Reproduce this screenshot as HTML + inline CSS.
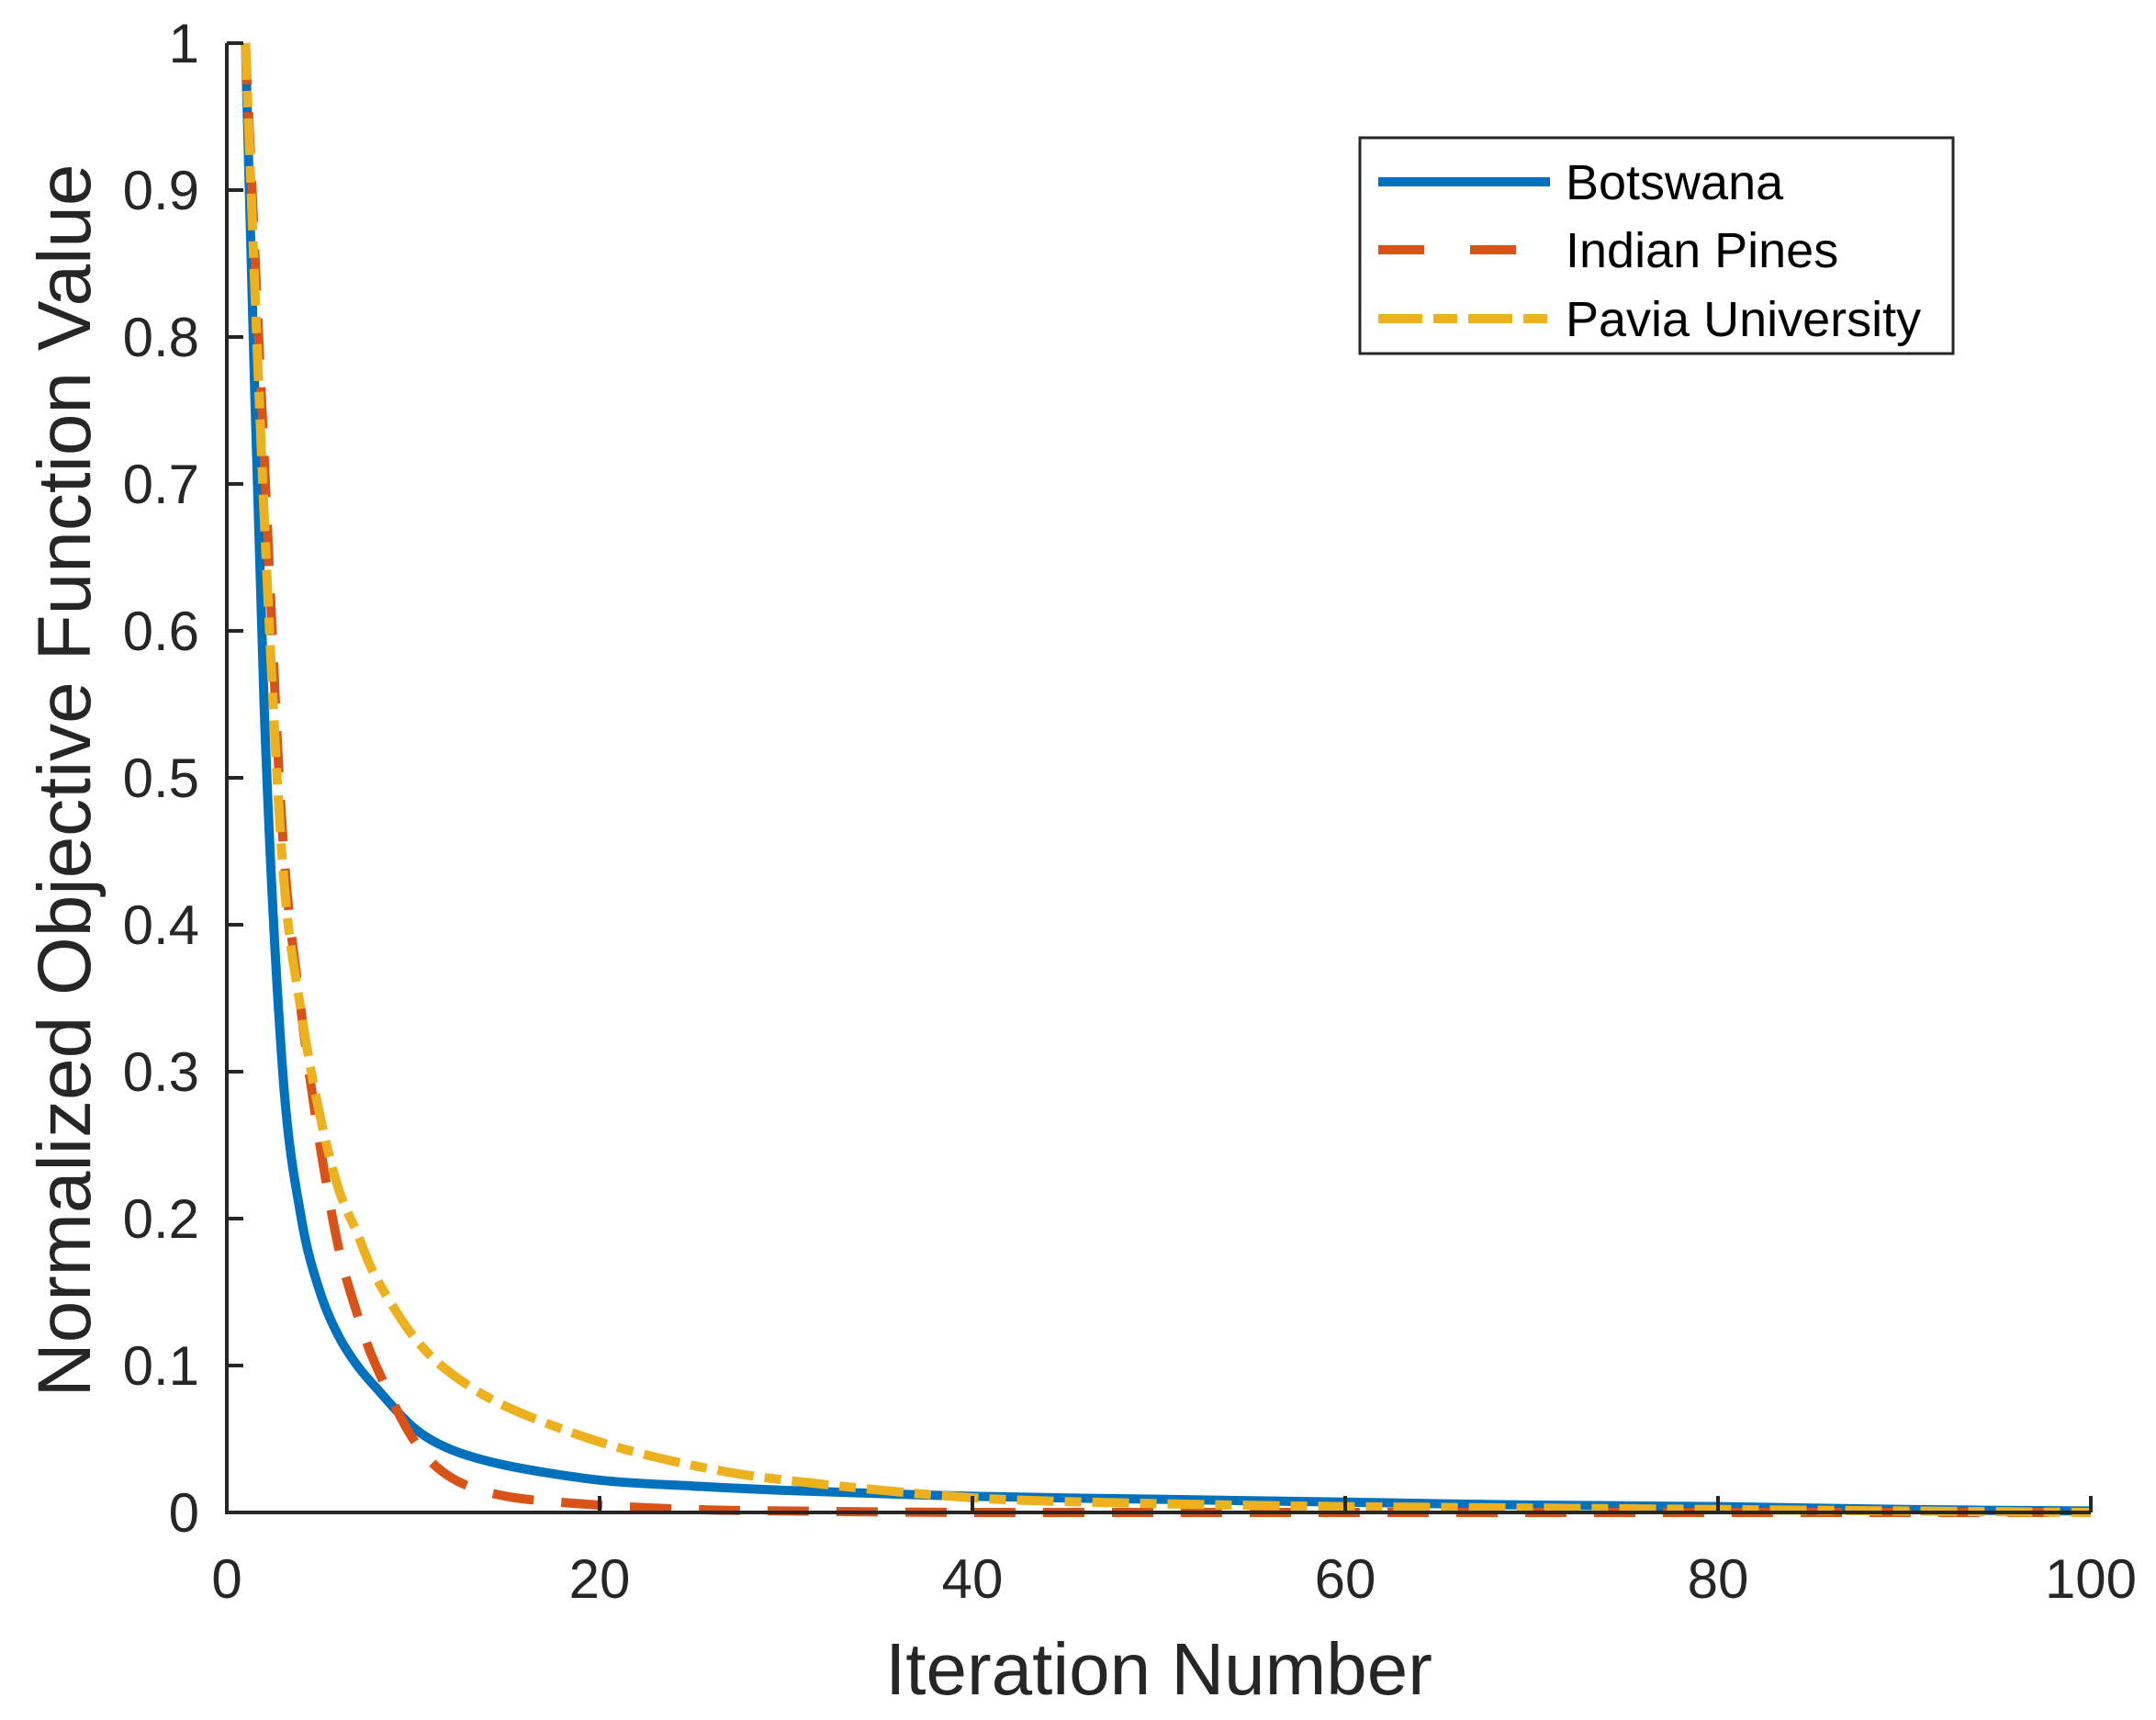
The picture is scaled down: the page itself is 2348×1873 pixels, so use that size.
<!DOCTYPE html>
<html><head><meta charset="utf-8"><style>
html,body{margin:0;padding:0;background:#fff;}
svg{display:block;font-family:"Liberation Sans",Arial,sans-serif;}
</style></head><body>
<svg id="chart" width="2348" height="1873" viewBox="0 0 2348 1873" xmlns="http://www.w3.org/2000/svg">
<rect width="2348" height="1873" fill="#fff"/>
<g id="series"></g>
<g id="axes"></g>
<g id="legend"></g>
</svg>
<script>
const iterations = [1,2,3,4,5,6,7,8,10,12,15,20,25,30,40,50,60,70,80,90,100];
const botswana = [1.0,0.55,0.30,0.20,0.15,0.12,0.10,0.085,0.058,0.043,0.032,0.022,0.018,0.015,0.011,0.009,0.007,0.005,0.004,0.002,0.001];
const indianPines = [1.0,0.72,0.46,0.34,0.25,0.18,0.135,0.10,0.05,0.024,0.011,0.005,0.002,0.001,0,0,0,0,0,0,0];
const paviaUniversity = [1.0,0.68,0.44,0.34,0.27,0.22,0.19,0.16,0.12,0.095,0.072,0.048,0.032,0.022,0.010,0.006,0.004,0.003,0.002,0.001,0];
const xTicks = [0,20,40,60,80,100];
const yTicks = [0,0.1,0.2,0.3,0.4,0.5,0.6,0.7,0.8,0.9,1];
const yTickLabels = ["0","0.1","0.2","0.3","0.4","0.5","0.6","0.7","0.8","0.9","1"];
const seriesNames = ["Botswana","Indian Pines","Pavia University"];

const NS="http://www.w3.org/2000/svg";
const L=247,R=2277,T=47,B=1647;
const xs=v=>L+(v-0)/(100-0)*(R-L);
const ys=v=>B-(v-0)/(1-0)*(B-T);
function mk(tag,attrs,parent){const e=document.createElementNS(NS,tag);for(const k in attrs)e.setAttribute(k,attrs[k]);parent.appendChild(e);return e;}

function smoothPath(xv,yv){
  const p=xv.map((x,i)=>[xs(x),ys(yv[i])]);
  let d="M"+p[0][0]+","+p[0][1];
  for(let i=0;i<p.length-1;i++){
    const p0=p[Math.max(0,i-1)],p1=p[i],p2=p[i+1],p3=p[Math.min(p.length-1,i+2)];
    const t=0.16;
    let c1y=p1[1]+(p2[1]-p0[1])*t,c2y=p2[1]-(p3[1]-p1[1])*t;
    const lo=Math.min(p1[1],p2[1]),hi=Math.max(p1[1],p2[1]);
    c1y=Math.min(hi,Math.max(lo,c1y));c2y=Math.min(hi,Math.max(lo,c2y));
    d+=" C"+(p1[0]+(p2[0]-p0[0])*t)+","+c1y+" "+(p2[0]-(p3[0]-p1[0])*t)+","+c2y+" "+p2[0]+","+p2[1];
  }
  return d;
}
const sg=document.getElementById('series');
const styles=[
 {c:"#0072BD",dash:"none",name:"botswana-line"},
 {c:"#D95319",dash:"45 30",name:"indian-pines-line"},
 {c:"#EDB120",dash:"40 12 18 12",name:"pavia-university-line"}
];
const data=[botswana,indianPines,paviaUniversity];
[0,1,2].forEach(i=>{
  const e=mk('path',{d:smoothPath(iterations,data[i]),fill:"none",stroke:styles[i].c,"stroke-width":10,"stroke-dasharray":styles[i].dash},sg);
  
  
});

const ax=document.getElementById('axes');
const axl=mk('path',{d:`M${L},${T} L${L},${B} L${R},${B}`,fill:"none",stroke:"#262626","stroke-width":4},ax);


yTicks.forEach((v,i)=>{
  const t=mk('line',{x1:L,x2:L+18,y1:ys(v),y2:ys(v),stroke:"#262626","stroke-width":4},ax);
  
  
  const tx=mk('text',{x:L-30,y:ys(v)+21,"text-anchor":"end","font-size":60,fill:"#262626"},ax);
  tx.textContent=yTickLabels[i];
  
  
});
xTicks.forEach(v=>{
  const t=mk('line',{x1:xs(v),x2:xs(v),y1:B,y2:B-18,stroke:"#262626","stroke-width":4},ax);
  
  
  const tx=mk('text',{x:xs(v),y:1740,"text-anchor":"middle","font-size":60,fill:"#262626"},ax);
  tx.textContent=String(v);
  
  
});
const xt=mk('text',{x:1262,y:1845,"text-anchor":"middle","font-size":80,fill:"#262626"},ax);
xt.textContent="Iteration Number";


const yt=mk('text',{x:0,y:0,"text-anchor":"middle","font-size":82,fill:"#262626",transform:"translate(98,850) rotate(-90)"},ax);
yt.textContent="Normalized Objective Function Value";



const lg=document.getElementById('legend');
const box=mk('rect',{x:1481,y:150,width:646,height:235,fill:"#fff",stroke:"#262626","stroke-width":3},lg);


const rowsY=[198,272,347];
[0,1,2].forEach(i=>{
  const ln=mk('line',{x1:1501,x2:1688,y1:rowsY[i],y2:rowsY[i],stroke:styles[i].c,"stroke-width":10,"stroke-dasharray":i===1?"50 50":(i===2?"48 12 26 12":"none")},lg);
  
  
  const tx=mk('text',{x:1705,y:rowsY[i]+19,"font-size":54,fill:"#000"},lg);
  tx.textContent=seriesNames[i];
  
  
});
</script>
</body></html>
